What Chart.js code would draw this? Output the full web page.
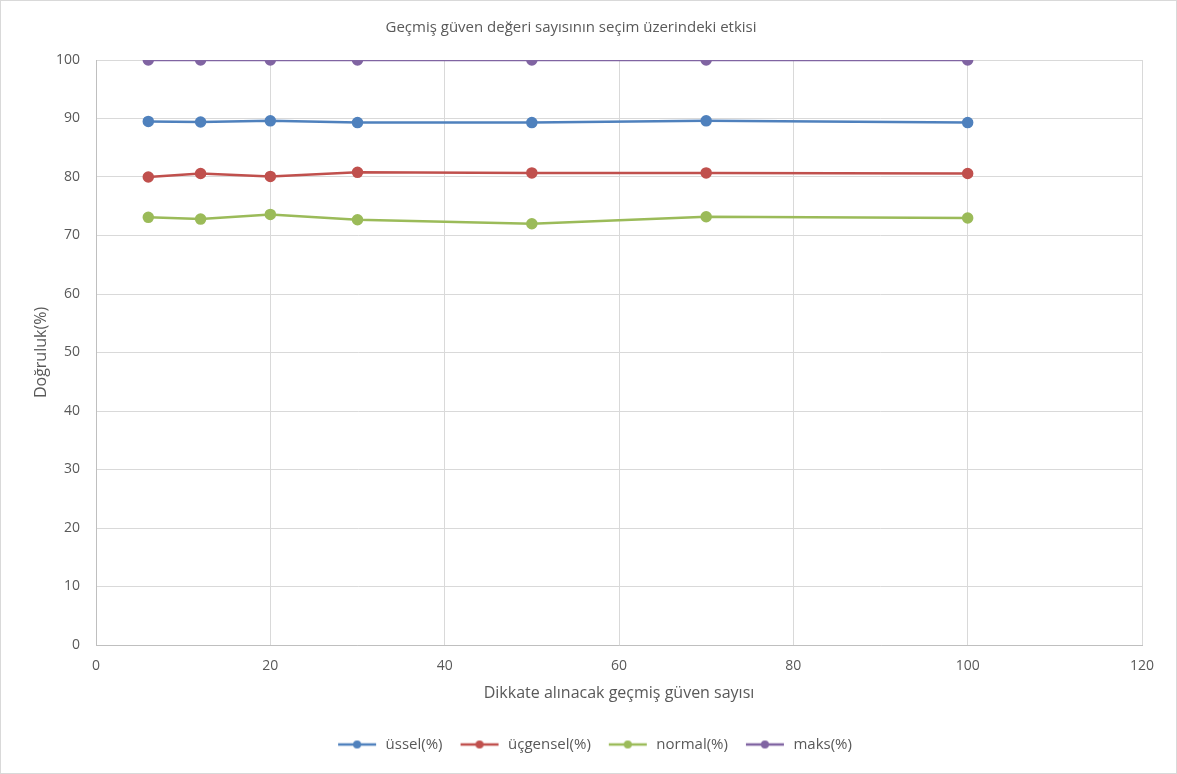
<!DOCTYPE html>
<html lang="tr">
<head>
  <meta charset="UTF-8">
  <title>Geçmiş güven değeri sayısının seçim üzerindeki etkisi</title>
  <script src="https://cdn.jsdelivr.net/npm/chart.js"></script>
  <style>
    body { margin: 0; background: #fff; }
    .wrap { position: relative; width: 1177px; height: 774px; }
    .frame {
      position: absolute; left: 0; top: 0; right: 0; bottom: 0;
      border: 1px solid #d9d9d9; pointer-events: none;
    }
  </style>
</head>
<body>
<div class="wrap">
  <canvas id="chart" width="1177" height="774"></canvas>
  <div class="frame"></div>
</div>
<script>
// x values (number of past trust values considered)
const xValues = [6, 12, 20, 30, 50, 70, 100];
const ussel    = [89.5, 89.4, 89.6, 89.3, 89.3, 89.6, 89.3];
const ucgensel = [80.0, 80.6, 80.1, 80.8, 80.7, 80.7, 80.6];
const normal   = [73.1, 72.8, 73.6, 72.7, 72.0, 73.2, 73.0];
const maks     = [100, 100, 100, 100, 100, 100, 100];
const seriesNames = ['üssel(%)', 'üçgensel(%)', 'normal(%)', 'maks(%)'];
const colors = ['#4F81BD', '#C0504D', '#9BBB59', '#8064A2'];
const xTicks = { min: 0, max: 120, step: 20 };
const yTicks = { min: 0, max: 100, step: 10 };

const textColor = '#595959';
const font = 'Open Sans';

function toPoints(ys) {
  return xValues.map((x, i) => ({ x: x, y: ys[i] }));
}

// small line+dot icon for legend entries (a bit of blank space on the left)
function legendIcon(color) {
  const c = document.createElement('canvas');
  c.width = 46; c.height = 10;
  const g = c.getContext('2d');
  g.strokeStyle = color;
  g.lineWidth = 2.5;
  g.beginPath(); g.moveTo(6, 5); g.lineTo(44, 5); g.stroke();
  g.fillStyle = color;
  g.beginPath(); g.arc(25, 5, 4, 0, Math.PI * 2); g.fill();
  return c;
}

// legend sits centred on the whole frame, not on the padded chart box
const legendShift = {
  id: 'legendShift',
  afterLayout(chart) {
    chart.legend.left += 21;
    chart.legend.right += 21;
  }
};

const allSeries = [ussel, ucgensel, normal, maks];
const datasets = allSeries.map((ys, i) => ({
  label: seriesNames[i],
  data: toPoints(ys),
  borderColor: colors[i],
  backgroundColor: colors[i],
  borderWidth: 2.5,
  pointRadius: 4.5,
  pointHoverRadius: 4.5,
  showLine: true,
  tension: 0
}));

new Chart(document.getElementById('chart'), {
  type: 'scatter',
  data: { datasets: datasets },
  plugins: [legendShift],
  options: {
    responsive: false,
    animation: false,
    layout: { padding: { left: 0, right: 35, top: 0, bottom: 12 } },
    plugins: {
      title: {
        display: true,
        text: 'Geçmiş güven değeri sayısının seçim üzerindeki etkisi',
        color: textColor,
        font: { family: font, size: 15, weight: 'normal' },
        padding: { top: 19, bottom: 23 }
      },
      legend: {
        position: 'bottom',
        labels: {
          color: textColor,
          font: { family: font, size: 15 },
          usePointStyle: true,
          pointStyleWidth: 46,
          padding: 12,
          generateLabels: chart => chart.data.datasets.map((ds, i) => ({
            text: ds.label,
            pointStyle: legendIcon(colors[i]),
            fillStyle: colors[i],
            strokeStyle: colors[i],
            lineWidth: 0,
            fontColor: textColor,
            datasetIndex: i
          }))
        }
      },
      tooltip: { enabled: false }
    },
    scales: {
      x: {
        type: 'linear',
        min: xTicks.min,
        max: xTicks.max,
        afterFit: s => { s.height = 80; },
        ticks: {
          stepSize: xTicks.step,
          color: textColor,
          font: { family: font, size: 14 },
          padding: 13
        },
        grid: { color: '#d9d9d9', drawTicks: false },
        border: { color: '#bfbfbf' },
        title: {
          display: true,
          text: 'Dikkate alınacak geçmiş güven sayısı',
          color: textColor,
          font: { family: font, size: 16 },
          padding: { top: 22, bottom: 22 }
        }
      },
      y: {
        min: yTicks.min,
        max: yTicks.max,
        afterFit: s => { s.width = 96; },
        ticks: {
          stepSize: yTicks.step,
          color: textColor,
          font: { family: font, size: 14 },
          padding: 16
        },
        grid: { color: '#d9d9d9', drawTicks: false },
        border: { color: '#bfbfbf' },
        title: {
          display: true,
          text: 'Doğruluk(%)',
          color: textColor,
          font: { family: font, size: 16 },
          padding: { top: 32, bottom: 32 }
        }
      }
    }
  }
});
</script>
</body>
</html>
